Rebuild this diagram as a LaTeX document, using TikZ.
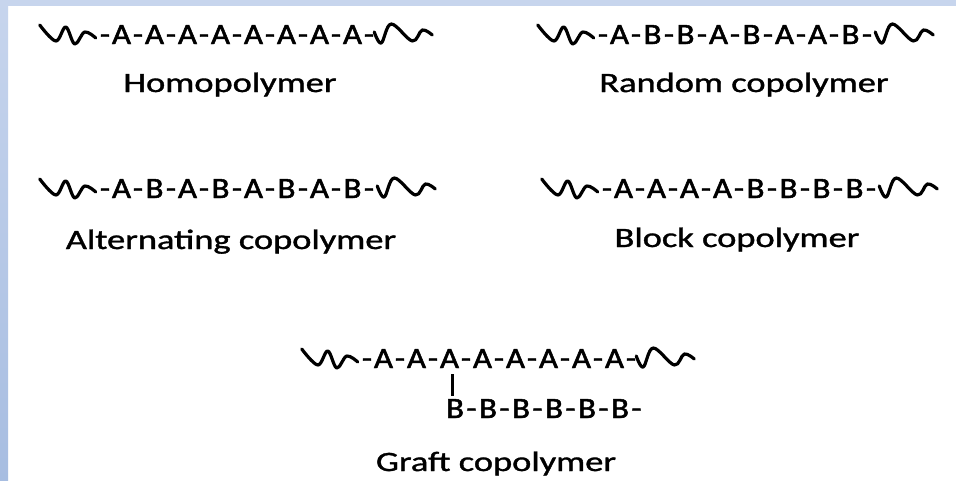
\documentclass[tikz,border=0pt]{standalone}
\usepackage{fontspec}
\setmainfont{Carlito}
\newfontfamily\chainfam{Carlito}[FakeBold=1.6]
\newfontfamily\labfam{Carlito}[FakeBold=1.1]
\definecolor{bandtop}{HTML}{C7D5ED}
\definecolor{bandbot}{HTML}{A7BDE1}
\newcommand\chainfont{\chainfam\fontsize{29.5}{33}\selectfont}
\newcommand\labelfont{\labfam\fontsize{28}{32}\selectfont}
\newcommand\widelabel[1]{\scalebox{1.3}[1]{#1}}
\newcommand\chainrow[4]{%
  \foreach \c [count=\i] in {#4}
    \node[ch] (#1\i) at ({#2+(\i-1)*16.5},#3) {\scalebox{1.12}[1]{\c}};}
\tikzset{
  ch/.style={inner sep=0pt, anchor=base, font=\chainfont},
  lab/.style={inner sep=0pt, anchor=base, font=\labelfont},
  squig/.style={line width=3.2pt, line cap=round, line join=round},
  bond/.style={line width=2.2pt},
  lsq/.pic={\draw[squig] plot[smooth, tension=0.6] coordinates
    {(-56,-10) (-40,6) (-30,-8) (-21,9) (-11,-3) (0,3)};},
  rsq/.pic={\draw[squig] plot[smooth, tension=0.6] coordinates
    {(0,-3) (7,8) (17,-11) (38,6) (48,-5) (58,0)};}
}
\begin{document}
\begin{tikzpicture}[x=1pt, y=-1pt]
\useasboundingbox (0,0) rectangle (956,480);
\fill[white] (0,0) rectangle (956,480);
\fill[bandtop] (0,0) rectangle (956,6);
\shade[top color=bandtop, bottom color=bandbot] (0,0) rectangle (8,480);

% Homopolymer
\chainrow{h}{105}{44}{-,A,-,A,-,A,-,A,-,A,-,A,-,A,-,A,-}
\pic at ([shift={(-4,-9)}]h1.base west) {lsq};
\pic at ([shift={(0,-9)}]h17.base east) {rsq};
\node[lab] (hl) at (230,92) {\widelabel{Homopolymer}};

% Random copolymer
\chainrow{r}{603}{44}{-,A,-,B,-,B,-,A,-,B,-,A,-,A,-,B,-}
\pic at ([shift={(-4,-9)}]r1.base west) {lsq};
\pic at ([shift={(3,-9)}]r17.base east) {rsq};
\node[lab] (rl) at (744,92) {\widelabel{Random copolymer}};

% Alternating copolymer
\chainrow{a}{105}{198}{-,A,-,B,-,A,-,B,-,A,-,B,-,A,-,B,-}
\pic at ([shift={(-4,-9)}]a1.base west) {lsq};
\pic at ([shift={(3,-9)}]a17.base east) {rsq};
\node[lab] (al) at (231,249) {\widelabel{Alternating copolymer}};

% Block copolymer
\chainrow{b}{607}{198}{-,A,-,A,-,A,-,A,-,B,-,B,-,B,-,B,-}
\pic at ([shift={(-4,-9)}]b1.base west) {lsq};
\pic at ([shift={(3,-9)}]b17.base east) {rsq};
\node[lab] (bl) at (737,247) {\widelabel{Block copolymer}};

% Graft copolymer
\chainrow{g}{367}{368}{-,A,-,A,-,A,-,A,-,A,-,A,-,A,-,A,-}
\pic at ([shift={(-4,-9)}]g1.base west) {lsq};
\pic at ([shift={(0,-9)}]g17.base east) {rsq};
\chainrow{gb}{455}{418}{B,-,B,-,B,-,B,-,B,-,B,-}
\draw[bond] ([shift={(3,6)}]g6.base) -- ([shift={(3,-22)}]g6.base |- gb1.base);
\node[lab] (gl) at (496,471) {\widelabel{Graft copolymer}};
\end{tikzpicture}
\end{document}
